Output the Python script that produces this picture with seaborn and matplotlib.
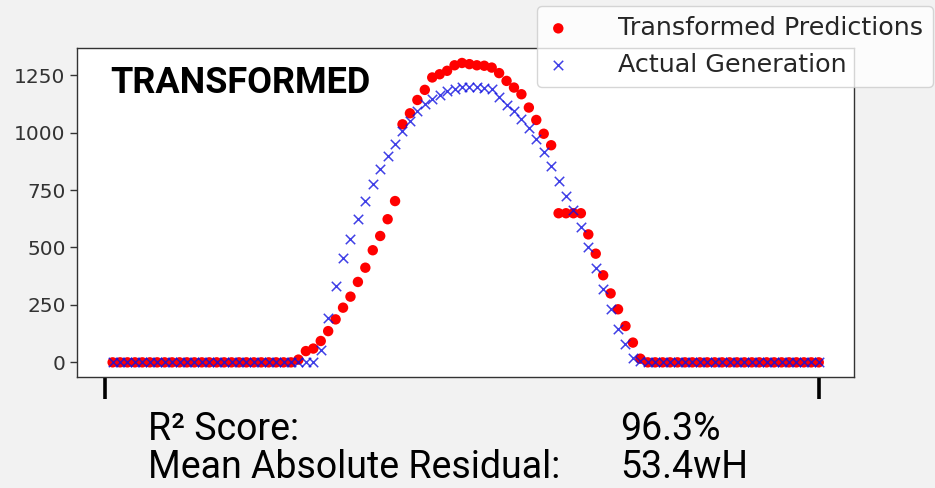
import matplotlib.pyplot as plt
import pandas as pd
import seaborn as sns

# quarter-hour slots across one day
slots = list(range(1, 97))

predicted = [
    0, 0, 0, 0, 0, 0, 0, 0, 0, 0, 0, 0, 0, 0, 0, 0, 0, 0, 0, 0, 0, 0, 0, 0, 0,
    12, 49, 60, 93, 136, 187, 238, 286, 350, 412, 488, 550, 623, 702,
    1036, 1084, 1142, 1186, 1240, 1254, 1269, 1293, 1303, 1298, 1293, 1291,
    1283, 1259, 1225, 1196, 1167, 1109, 1055, 995, 945,
    649, 649, 649, 649, 557, 473, 379, 300, 231, 158, 86, 16,
    0, 0, 0, 0, 0, 0, 0, 0, 0, 0, 0, 0, 0, 0, 0, 0, 0, 0, 0, 0, 0, 0, 0, 0,
]

actual = [
    0, 0, 0, 0, 0, 0, 0, 0, 0, 0, 0, 0, 0, 0, 0, 0, 0, 0, 0, 0, 0, 0, 0, 0, 0,
    0, 0, 2, 54, 195, 332, 453, 539, 623, 702, 775, 843, 896, 949,
    1007, 1051, 1094, 1124, 1145, 1163, 1179, 1189, 1198, 1200, 1200, 1196,
    1189, 1157, 1120, 1096, 1058, 1020, 974, 916, 856,
    790, 724, 663, 587, 504, 412, 321, 234, 147, 78, 20, 6,
    0, 0, 0, 0, 0, 0, 0, 0, 0, 0, 0, 0, 0, 0, 0, 0, 0, 0, 0, 0, 0, 0, 0, 0,
]

day_ticks = [0, 96]
y_ticks = [0, 250, 500, 750, 1000, 1250]

title_text = "TRANSFORMED"
score_labels = ["R² Score:", "Mean Absolute Residual:"]
score_values = ["96.3%", "53.4wH"]

sns.set_style("white")
plt.rcParams["font.family"] = ["DejaVu Sans"]
narrow = ["Roboto", "DejaVu Sans"]

df = pd.DataFrame({
    "slot": slots,
    "Transformed Predictions": predicted,
    "Actual Generation": actual,
})

fig = plt.figure(figsize=(9.35, 4.88), dpi=100, facecolor="#f2f2f2")
ax = fig.add_axes([0.0827, 0.2268, 0.8307, 0.6748])
ax.set_facecolor("white")

sns.scatterplot(data=df, x="slot", y="Transformed Predictions", color="red",
                s=56, edgecolor="none", label="Transformed Predictions", ax=ax)
sns.scatterplot(data=df, x="slot", y="Actual Generation", color="#1010e0",
                marker="x", s=46, linewidth=1.1, alpha=0.8,
                label="Actual Generation", ax=ax)

ax.set_xlabel("")
ax.set_ylabel("")
ax.set_xticks(day_ticks)
ax.set_xticklabels([])
ax.set_yticks(y_ticks)
ax.tick_params(axis="x", bottom=True, length=16, width=2.6, color="black")
ax.tick_params(axis="y", left=True, length=5, width=1, color="#333333",
               labelsize=14.5, labelcolor="#333333")
for sp in ax.spines.values():
    sp.set_color("#333333")
    sp.set_linewidth(1)

ax.legend(loc="upper left", bbox_to_anchor=(0.574, 0.988),
          bbox_transform=fig.transFigure, fontsize=18.3, handlelength=0.9,
          handletextpad=1.9, framealpha=0.8, borderaxespad=0)

fig.text(110 / 935, 0.8094, title_text, family=narrow, weight="bold",
         fontsize=26, va="baseline", color="black")

fig.text(148 / 935, 0.0984, score_labels[0], family=narrow, fontsize=27,
         va="baseline", color="black")
fig.text(148 / 935, 0.0205, score_labels[1], family=narrow, fontsize=27,
         va="baseline", color="black")
fig.text(620 / 935, 0.0984, score_values[0], family=narrow, fontsize=27,
         va="baseline", color="black")
fig.text(620 / 935, 0.0205, score_values[1], family=narrow, fontsize=27,
         va="baseline", color="black")

fig.savefig("out.png", dpi=100, facecolor=fig.get_facecolor())
